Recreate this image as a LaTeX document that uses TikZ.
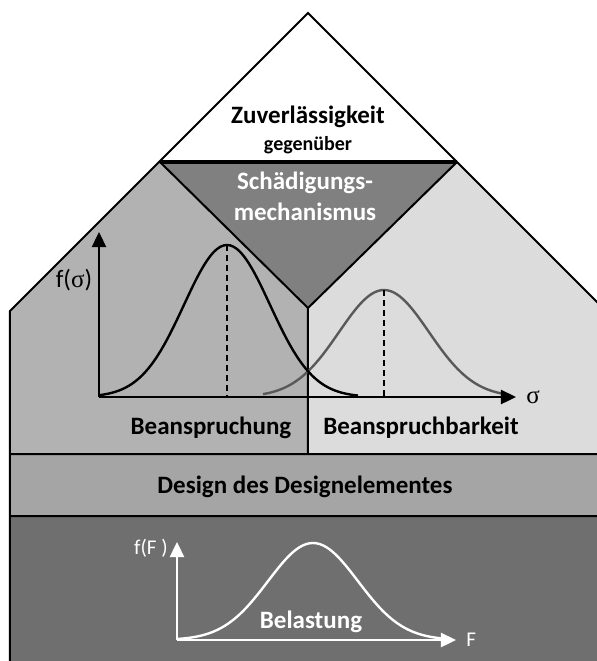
\documentclass[tikz,border=0pt]{standalone}
\usepackage{fontspec}
\setmainfont{Carlito}
\newfontfamily\sigfont{Liberation Serif}
\usepackage{tikz}
\usetikzlibrary{arrows.meta, calc, positioning}

\definecolor{leftgray}{HTML}{B2B2B2}
\definecolor{rightgray}{HTML}{DCDCDC}
\definecolor{vgray}{HTML}{808080}
\definecolor{bandgray}{HTML}{A5A5A5}
\definecolor{basegray}{HTML}{6F6F6F}
\definecolor{curvegray}{HTML}{595959}

\begin{document}
\begin{tikzpicture}[x=0.5pt, y=-0.5pt, >={Triangle[length=7.5pt,width=7pt]}]
    \tikzstyle{outline} = [draw=black, line width=1pt]
    \tikzstyle{bigtext} = [font=\bfseries\fontsize{12.5}{14}\selectfont, inner sep=0pt]
    \tikzstyle{smalltext} = [font=\bfseries\fontsize{10}{12}\selectfont, inner sep=0pt]
    \tikzstyle{axistext} = [font=\fontsize{12.5}{14}\selectfont, inner sep=0pt]
    \tikzstyle{curve} = [line width=1.2pt, smooth]
    \tikzstyle{mean} = [line width=1.1pt, densely dashed]

    \useasboundingbox (0,0) rectangle (597,661);
    \clip (0,0) rectangle (597,661);

	% corners of the house
	\coordinate (top) at (308,13);
	\coordinate (roofL) at (160,162);
	\coordinate (roofR) at (457,162);
	\coordinate (V) at (308,308);
	\coordinate (wallL) at (10,311);
	\coordinate (wallR) at (606,311);
	\coordinate (mid) at (308,454);
	\coordinate (midL) at (10,454);
	\coordinate (midR) at (606,454);
	\coordinate (lowL) at (10,516);
	\coordinate (lowR) at (606,516);
	\coordinate (botL) at (10,675);
	\coordinate (botR) at (606,675);

	% areas
	\fill[leftgray] (roofL) -- (V) -- (mid) -- (midL) -- (wallL) -- cycle;
	\fill[rightgray] (roofR) -- (wallR) -- (midR) -- (mid) -- (V) -- cycle;
	\fill[vgray] (roofL) -- (roofR) -- (V) -- cycle;
	\fill[white] (top) -- (roofR) -- (roofL) -- cycle;
	\fill[bandgray] (midL) rectangle (lowR);
	\fill[basegray] (lowL) rectangle (botR);

	% lines
	\path[outline]
		(botL) -- (wallL) -- (top) -- (wallR) -- (botR)
		(roofL) -- (V) -- (roofR)
		(V) -- (mid)
		(midL) -- (midR)
		(lowL) -- (lowR);
	\draw[line width=1.6pt] (roofL) -- (roofR);

	% texts
	\node[bigtext] (zuv) at (308,117) {Zuverlässigkeit};
	\node[smalltext] (geg) at (308,145) {gegenüber};
	\node[bigtext, white] (schad) at (305,183) {Schädigungs-};
	\node[bigtext, white] (mech) at (305,212) {mechanismus};
	\node[bigtext] (bean) at (211,428) {Beanspruchung};
	\node[bigtext] (beanb) at (421,428) {Beanspruchbarkeit};
	\node[bigtext] (design) at (305,487) {Design des Designelementes};
	\node[bigtext, white] (belast) at (311,622) {Belastung};

	% stress diagram
	\coordinate (o1) at (99,397);
	\coordinate (y1) at (99,232);
	\coordinate (x1) at (516,397);
	\node[axistext] (fsig) at (74,280) {f({\sigfont σ})};
	\node[axistext, right=5pt of x1] (sig) {\sigfont σ};
	\draw[curvegray, curve] plot[domain=263:503, samples=80] (\x, {397-107*exp(-0.5*((\x-384)/45)^2)});
	\draw[black, curve] plot[domain=99:358, samples=80] (\x, {397-152*exp(-0.5*((\x-227)/43)^2)});
	\draw[mean] (227,245) -- (227,397);
	\draw[mean] (384,290) -- (384,397);
	\draw[line width=1.2pt, ->] (o1) -- (y1);
	\draw[line width=1.2pt, ->] (o1) -- (x1);

	% load diagram
	\coordinate (o2) at (177,640);
	\coordinate (y2) at (177,542);
	\coordinate (x2) at (456,640);
	\node[axistext, white, font=\fontsize{10.5}{12}\selectfont] (fF) at (151,548) {f(F )};
	\node[axistext, white, font=\fontsize{10.5}{12}\selectfont, right=5pt of x2] (F) {F};
	\draw[white, curve] plot[domain=177:445, samples=80] (\x, {640-97*exp(-0.5*((\x-313)/45)^2)});
	\draw[white, line width=1.2pt, ->] (o2) -- (y2);
	\draw[white, line width=1.2pt, ->] (o2) -- (x2);
\end{tikzpicture}
\end{document}
